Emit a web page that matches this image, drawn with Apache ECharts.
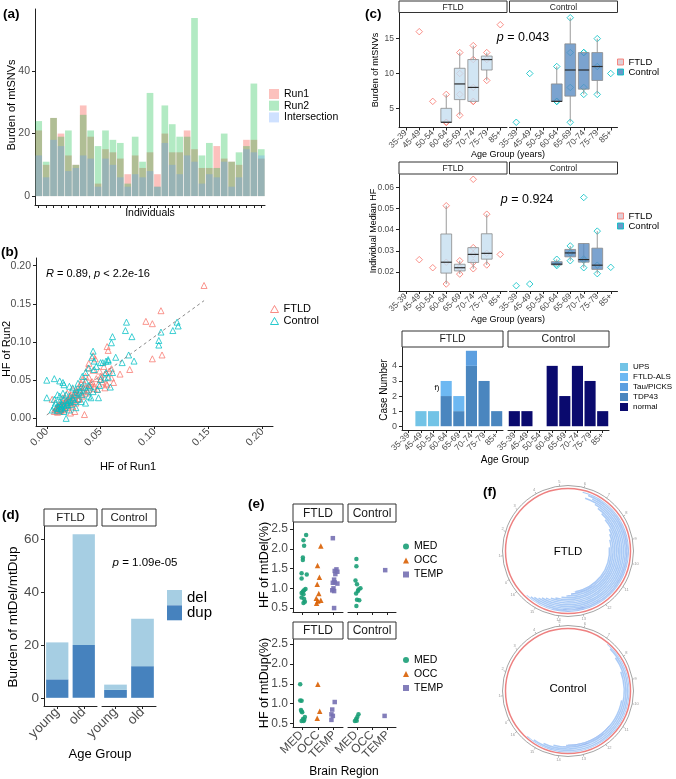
<!DOCTYPE html>
<html><head><meta charset="utf-8">
<script src="https://cdn.jsdelivr.net/npm/echarts@6/dist/echarts.min.js"></script>
<style>html,body{margin:0;padding:0;background:#fff}#c{width:676px;height:779px}</style>
</head><body><div id="c"></div>
<script>
// ================= DATA =================
// (a) burden of mtSNVs per individual
const individuals = ['I01','I02','I03','I04','I05','I06','I07','I08','I09','I10','I11','I12','I13','I14','I15','I16','I17','I18','I19','I20','I21','I22','I23','I24','I25','I26','I27','I28','I29','I30','I31'];
const run1  = [21,10,25,20,13,10,29,19,4,15,14,12,7,13,9,14,7,20,14,14,21,15,9,9,16,12,11,10,18,18,12];
const run2  = [24,11,25,19,21,10,26,21,16,21,18,17,4,19,11,33,3,29,23,19,19,57,13,17,9,20,11,14,16,36,15];
const inter = [13,6,18,16,8,9,13,12,3,12,10,6,3,7,6,8,3,17,10,7,13,11,4,7,6,11,3,6,15,14,13];

// (b) HF Run1 vs Run2
const hfFTLD = [[0.146,0.174],[0.106,0.141],[0.092,0.127],[0.098,0.124],[0.107,0.083],[0.098,0.078],[0.056,0.094],[0.057,0.089],[0.039,0.072],[0.077,0.064],[0.068,0.058],[0.053,0.068],[0.049,0.062],[0.043,0.063],[0.038,0.066],[0.039,0.054],[0.050,0.051],[0.055,0.046],[0.060,0.065],[0.054,0.040],[0.035,0.005],[0.030,0.042],[0.024,0.038],[0.019,0.033],[0.015,0.027],[0.012,0.018],[0.010,0.016],[0.013,0.014],[0.015,0.017],[0.016,0.019],[0.018,0.022],[0.021,0.025],[0.022,0.029],[0.026,0.031],[0.027,0.035],[0.032,0.046],[0.033,0.051],[0.036,0.055],[0.041,0.046],[0.044,0.042],[0.047,0.038],[0.005,0.025],[0.007,0.009],[0.008,0.011],[0.012,0.009],[0.013,0.011],[0.010,0.008],[0.016,0.011],[0.019,0.014],[0.024,0.016],[0.027,0.020],[0.030,0.025],[0.033,0.029],[0.036,0.033],[0.039,0.038],[0.026,0.009],[0.022,0.007],[0.043,0.082],[0.045,0.078],
 [0.010,0.012],[0.011,0.014],[0.012,0.013],[0.013,0.015],[0.012,0.016],[0.014,0.014],[0.011,0.017],[0.013,0.011],[0.015,0.016],[0.010,0.015],[0.009,0.013],[0.014,0.018],[0.016,0.013],[0.012,0.010],[0.017,0.015],[0.018,0.019],[0.019,0.022],[0.020,0.024],[0.021,0.021],[0.022,0.025],[0.018,0.017],[0.016,0.020],[0.024,0.022],[0.025,0.027],[0.023,0.019],[0.020,0.017],[0.028,0.030],[0.030,0.026],[0.026,0.033],[0.032,0.031],[0.034,0.036],[0.036,0.040],[0.038,0.035],[0.040,0.044],[0.042,0.048],[0.044,0.039],[0.046,0.052],[0.048,0.045],[0.050,0.055],[0.052,0.048],[0.054,0.058],[0.056,0.044],[0.058,0.062],[0.060,0.053],[0.062,0.047],[0.035,0.045],[0.030,0.038],[0.027,0.024],[0.022,0.030],[0.016,0.024],
 [0.011,0.015],[0.012,0.015],[0.013,0.016],[0.012,0.014],[0.014,0.016],[0.010,0.013],[0.011,0.012],[0.015,0.014],[0.013,0.013],[0.014,0.012]];
const hfControl = [[0.074,0.126],[0.073,0.115],[0.079,0.107],[0.061,0.107],[0.060,0.099],[0.121,0.126],[0.122,0.121],[0.117,0.115],[0.106,0.113],[0.104,0.102],[0.104,0.096],[0.043,0.088],[0.042,0.080],[0.057,0.075],[0.050,0.073],[0.064,0.080],[0.070,0.073],[0.076,0.083],[0.081,0.075],[0.061,0.060],[0.057,0.054],[0.055,0.060],[0.046,0.068],[0.044,0.064],[0.059,0.041],[0.048,0.027],[0.000,0.050],[0.007,0.052],[0.000,0.027],[0.018,0.000],[0.015,0.047],[0.016,0.044],[0.012,0.049],[0.021,0.042],[0.024,0.040],[0.027,0.038],[0.029,0.046],[0.032,0.041],[0.036,0.049],[0.039,0.043],[0.049,0.043],[0.050,0.051],[0.054,0.053],[0.043,0.035],[0.039,0.029],[0.033,0.031],[0.030,0.033],[0.024,0.027],[0.021,0.029],[0.018,0.031],[0.015,0.033],[0.012,0.029],[0.010,0.031],[0.007,0.025],[0.008,0.020],[0.012,0.022],[0.015,0.024],[0.019,0.020],[0.022,0.018],[0.026,0.022],[0.029,0.025],[0.032,0.022],[0.007,0.016],[0.005,0.011],[0.013,0.016],[0.016,0.009],[0.021,0.011],[0.027,0.014],[0.036,0.020],[0.041,0.027],[0.047,0.038],[0.052,0.073],[0.055,0.075],[0.057,0.077],[0.044,0.075],[0.039,0.066],[0.036,0.060],[0.033,0.055],
 [0.010,0.010],[0.011,0.013],[0.013,0.012],[0.014,0.015],[0.016,0.017],[0.017,0.014],[0.019,0.018],[0.020,0.021],[0.022,0.023],[0.024,0.025],[0.018,0.023],[0.014,0.019],[0.025,0.031],[0.028,0.034],[0.031,0.036],[0.034,0.040],[0.037,0.037],[0.040,0.041],[0.012,0.018],[0.009,0.014]];
const fitB = {intercept: 0.0045, slope: 1.025};
const hfTicks = [0, 0.05, 0.10, 0.15, 0.20];

// (c) age groups
const ageGroups = ['35-39','45-49','50-54','60-64','65-69','70-74','75-79','85+'];
const burdenFTLD    = [[],[16],[6],[3,3,7],[4,7,10,13],[6,6,8,12,14],[9,12,13],[17]];
const burdenControl = [[3],[10],[],[6,6,11],[3,8,13,18],[7,8,13,13],[7,11,15],[10]];
const medHF_FTLD    = [[],[0.0258],[0.022],[0.0143,0.0246,0.0513],[0.019,0.022,0.0253],[0.0215,0.0245,0.0283,0.0315,0.0638],[0.0233,0.0288,0.0473],[0.0283]];
const medHF_Control = [[0.0135],[0.0143],[],[0.023,0.0237,0.026],[0.0253,0.029,0.0323],[0.022,0.0255,0.0262,0.0552],[0.0192,0.0232,0.0393],[0.0222]];
const burdenTicks = [5,10,15];
const hfMedTicks = [0.02,0.03,0.04,0.05,0.06];
const caseUPS      = [0,1,1,0,0,0,0,0];
const caseFTLDALS  = [0,0,0,1,1,0,0,0];
const caseTauPICKS = [0,0,0,0,0,1,0,0];
const caseTDP43    = [0,0,0,2,1,4,3,1];
const caseNormal   = [1,1,0,4,2,4,3,1];
const caseTicks = [0,1,2,3,4];

// (d) mtDel / mtDup burden
const ageCats = ['young','old'];
const ftldDel = [14,42], ftldDup = [7,20];
const ctrlDel = [2,18],  ctrlDup = [3,12];
const delDupTicks = [0,20,40,60];

// (e) HF by brain region ([jittered region position, HF %])
const regions = ['MED','OCC','TEMP'];
const delFtldMED  = [[1.24,2.35],[1.07,2.22],[1.11,2.08],[1.03,1.78],[1.03,1.72],[0.95,1.38],[1.28,1.35],[0.95,1.25],[1.2,0.98],[1.11,0.95],[1.03,0.92],[0.95,0.88],[1.07,0.85],[0.95,0.77],[1.11,0.73],[1.16,0.66],[1.07,0.63]];
const delFtldOCC  = [[2.18,2.07],[1.97,1.58],[2.09,1.28],[1.95,1.1],[2.05,0.87],[1.89,0.75],[2.18,0.7],[1.99,0.68],[1.91,0.62]];
const delFtldTEMP = [[2.95,2.27],[3.18,1.48],[3.07,1.44],[3.24,1.42],[3.11,1.36],[3.03,1.22],[3.07,1.15],[3.24,1.12],[2.95,1.14],[2.99,1.0],[2.91,0.95],[3.03,0.93],[3.03,0.5]];
const delCtrlMED  = [[0.96,1.74],[0.96,1.56],[0.9,1.2],[1.0,1.1],[1.1,0.97],[1.23,1.0],[1.06,0.93],[0.94,0.87],[1.0,0.71],[1.15,0.7],[0.96,0.55]];
const delCtrlTEMP = [[2.88,1.46]];
const dupFtldMED  = [[0.86,1.49],[0.86,1.08],[0.95,1.07],[0.91,0.84],[0.95,0.8],[0.99,0.78],[1.16,0.66],[1.04,0.61],[0.95,0.56],[1.08,0.56],[1.12,0.59]];
const dupFtldOCC  = [[1.99,1.49],[2.11,0.81],[1.95,0.63]];
const dupFtldTEMP = [[3.07,1.04],[2.91,0.85],[2.86,0.73],[2.95,0.69],[2.86,0.59]];
const dupCtrlMED  = [[1.1,0.73],[1.02,0.66],[0.94,0.61],[0.86,0.56],[0.98,0.57]];
const dupCtrlTEMP = [[2.84,0.69]];
const hfPctTicks = [0.5,1.0,1.5,2.0,2.5];

// (f) deletion arcs on the mitochondrial genome (bp), tracks inner -> outer
const mtLen = 16569;
const ftldTracks   = ['t1','t2','t3','t4','t5','t6','t7','t8','t9','t10','t11','t12'];
const ftldArcStart = [9251,8791,8469,8192,7640,7272,6950,6720,6167,6490,6259,5983];
const ftldArcEnd   = [13163,13439,13715,13992,14314,14544,14774,14958,15096,15280,15418,15602];
const ftldDenseStart = [11322,10862,11782,null,null,null,null,null,null,null,8100,7410];
const ftldDenseEnd   = [13255,13439,13623,null,null,null,null,null,null,null,13854,14314];
const ctrlTracks   = ['t1','t2','t3','t4','t5'];
const ctrlArcStart = [9941,8561,7870,7410,7180];
const ctrlArcEnd   = [13715,14314,14774,15234,15556];
const ctrlDenseStart = [11322,11782,null,null,null];
const ctrlDenseEnd   = [13623,13854,null,null,null];

// ================= STYLE / LAYOUT =================
const FONT = '"Liberation Sans", Arial, Helvetica, sans-serif';
const AX = '#222', TL = '#4D4D4D';
const C_FTLD = '#F8766D', C_CTRL = '#00BFC4';

const grids = [
  [35,9,230,196],      //0 a
  [36,258,237,168],    //1 b
  [399,12.5,108,115],  //2 c1 FTLD
  [509.5,12.5,108,115],//3 c1 Control
  [399,174,108,117],   //4 c2 FTLD
  [509.5,174,108,117], //5 c2 Control
  [402,347,101,83],    //6 c3 FTLD
  [508,347,101,83],    //7 c3 Control
  [44,526,53,180],     //8 d FTLD
  [102,526,54,180],    //9 d Control
  [293,522,50,90],     //10 e1 FTLD
  [348,522,48,90],     //11 e1 Control
  [293,639,50,88],     //12 e2 FTLD
  [348,639,48,88]      //13 e2 Control
];

function valAxis(g, min, max, ticks, fmt, fs, extra) {
  const a = {
    type:'value', gridIndex:g, min, max,
    axisLine:{show:true, onZero:false, lineStyle:{color:AX, width:1}},
    axisTick:{show:true, length:3, customValues:ticks, lineStyle:{color:AX}},
    axisLabel:{show:true, customValues:ticks, formatter:fmt, fontSize:fs, color:TL, fontFamily:FONT, margin:5},
    splitLine:{show:false}
  };
  if (extra) { Object.assign(a.axisLabel, extra.label || {}); }
  return a;
}
function hiddenVal(g, min, max) { return {type:'value', gridIndex:g, min, max, show:false}; }
function catAxis(g, data, fs, rotate, showLabel) {
  return {
    type:'category', gridIndex:g, data,
    axisLine:{show:true, onZero:false, lineStyle:{color:AX, width:1}},
    axisTick:{show:true, alignWithLabel:true, interval:0, length:3, lineStyle:{color:AX}},
    axisLabel:{show:showLabel !== false, interval:0, rotate, fontSize:fs, color:TL, fontFamily:FONT, margin:4},
    splitLine:{show:false}
  };
}
function regionAxis(g) {
  return {
    type:'value', gridIndex:g, min:0.4, max:3.6,
    axisLine:{show:true, onZero:false, lineStyle:{color:AX, width:1}},
    axisTick:{show:true, length:3, customValues:[1,2,3], lineStyle:{color:AX}},
    axisLabel:{show:false},
    splitLine:{show:false}
  };
}
function regionLabelAxis(g) {
  return {
    type:'category', gridIndex:g, data:regions, position:'bottom',
    axisLine:{show:false, onZero:false}, axisTick:{show:false},
    axisLabel:{show:true, interval:0, rotate:45, fontSize:12, color:TL, fontFamily:FONT, margin:6},
    splitLine:{show:false}
  };
}
const fmt2 = v => v.toFixed(2);
const fmtI = v => String(v);

const xAxis = [
  catAxis(0, individuals, 10, 0, false),
  valAxis(1, -0.01, 0.21, hfTicks, fmt2, 10.5, {label:{rotate:45, margin:4}}),
  catAxis(2, ageGroups, 8.5, 45), catAxis(3, ageGroups, 8.5, 45),
  catAxis(4, ageGroups, 8.5, 45), catAxis(5, ageGroups, 8.5, 45),
  catAxis(6, ageGroups, 8.5, 45), catAxis(7, ageGroups, 8.5, 45),
  catAxis(8, ageCats, 13.5, 45), catAxis(9, ageCats, 13.5, 45),
  regionAxis(10), regionAxis(11), regionAxis(12), regionAxis(13),
  regionLabelAxis(12), regionLabelAxis(13)
];
const yAxis = [
  valAxis(0, -2.85, 59.85, [0,20,40], fmtI, 10.5),
  valAxis(1, -0.01, 0.21, hfTicks, fmt2, 10.5),
  valAxis(2, 2.25, 18.75, burdenTicks, fmtI, 8.5), hiddenVal(3, 2.25, 18.75),
  valAxis(4, 0.011, 0.0663, hfMedTicks, fmt2, 8.5), hiddenVal(5, 0.011, 0.0663),
  valAxis(6, -0.25, 5.25, caseTicks, fmtI, 9), hiddenVal(7, -0.25, 5.25),
  valAxis(8, -3.1, 65.1, delDupTicks, fmtI, 13.5), hiddenVal(9, -3.1, 65.1),
  valAxis(10, 0.4, 2.68, hfPctTicks, v => v.toFixed(1), 12), hiddenVal(11, 0.4, 2.68),
  valAxis(12, 0.41, 2.63, hfPctTicks, v => v.toFixed(1), 12), hiddenVal(13, 0.41, 2.63)
];

// ---------- helpers for box plots ----------
function quant(s, p) { const h = (s.length - 1) * p, l = Math.floor(h); const u = Math.min(l + 1, s.length - 1); return s[l] + (h - l) * (s[u] - s[l]); }
function boxStats(groups) {
  const out = [];
  groups.forEach((g, i) => {
    if (g.length < 2) return;
    const s = [...g].sort((a, b) => a - b);
    const q1 = quant(s, 0.25), md = quant(s, 0.5), q3 = quant(s, 0.75), iqr = q3 - q1;
    const lo = Math.min(...s.filter(v => v >= q1 - 1.5 * iqr));
    const hi = Math.max(...s.filter(v => v <= q3 + 1.5 * iqr));
    out.push([i, lo, q1, md, q3, hi]);
  });
  return out;
}
function groupPoints(groups) { const out = []; groups.forEach((g, i) => g.forEach(v => out.push([i, v]))); return out; }
function renderBox(fill) {
  return function (params, api) {
    const x = api.value(0);
    const lo = api.coord([x, api.value(1)]), q1 = api.coord([x, api.value(2)]);
    const md = api.coord([x, api.value(3)]), q3 = api.coord([x, api.value(4)]);
    const hi = api.coord([x, api.value(5)]);
    const w = api.size([1, 0])[0] * 0.8, cx = q1[0];
    return {type:'group', children:[
      {type:'line', shape:{x1:cx, y1:lo[1], x2:cx, y2:q1[1]}, style:{stroke:'#9a9a9a', lineWidth:1}},
      {type:'line', shape:{x1:cx, y1:q3[1], x2:cx, y2:hi[1]}, style:{stroke:'#9a9a9a', lineWidth:1}},
      {type:'rect', shape:{x:cx - w/2, y:q3[1], width:w, height:q1[1] - q3[1]}, style:{fill, stroke:'#8a8a8a', lineWidth:0.8}},
      {type:'line', shape:{x1:cx - w/2, y1:md[1], x2:cx + w/2, y2:md[1]}, style:{stroke:'#2b2b2b', lineWidth:1.2}}
    ]};
  };
}
function boxSeries(name, g, groups, fill) {
  return {type:'custom', name, xAxisIndex:g, yAxisIndex:g, renderItem:renderBox(fill), encode:{x:0, y:[1,2,3,4,5]}, data:boxStats(groups), z:3, silent:true};
}
function diamondSeries(name, g, groups, color) {
  return {type:'scatter', name, xAxisIndex:g, yAxisIndex:g, data:groupPoints(groups), symbol:'diamond', symbolSize:6.5,
    itemStyle:{color:'rgba(0,0,0,0)', borderColor:color, borderWidth:1}, z:2, silent:true};
}
const dash = a => a.map(v => v === 0 ? '-' : v);

// ---------- (b) fit line ----------
const allBx = hfFTLD.concat(hfControl).map(p => p[0]);
const bxMin = Math.min(...allBx), bxMax = Math.max(...allBx);
const fitLine = [[bxMin, fitB.intercept + fitB.slope * bxMin], [bxMax, fitB.intercept + fitB.slope * bxMax]];

// ---------- (e) ----------
const eSym = {MED:'circle', OCC:'triangle', TEMP:'rect'};
const eSize = {MED:4.5, OCC:5.5, TEMP:4.5};
const eCol = {MED:'#1B9E77', OCC:'#D95F02', TEMP:'#7570B3'};
function eSeries(g, name, data) {
  return {type:'scatter', name, xAxisIndex:g, yAxisIndex:g, data, symbol:eSym[name], symbolSize:eSize[name], itemStyle:{color:eCol[name], opacity:0.9}, silent:true};
}

// ---------- (f) arcs ----------
function arcSeries(polarIndex, stack, starts, ends, color) {
  const base = starts.map(v => v == null ? '-' : v);
  const len = starts.map((v, i) => v == null ? '-' : ends[i] - v);
  return [
    {type:'bar', coordinateSystem:'polar', polarIndex, stack, data:base, barWidth:'88%', barGap:'-100%', itemStyle:{color:'rgba(0,0,0,0)'}, silent:true},
    {type:'bar', coordinateSystem:'polar', polarIndex, stack, data:len, barWidth:'88%', barGap:'-100%', itemStyle:{color}, silent:true}
  ];
}
const ARC_LIGHT = 'rgba(150,190,244,0.8)', ARC_DARK = 'rgba(120,150,232,0.75)';

const FC = [568, 551], CC = [568, 691];
const polar = [
  {center:FC, radius:[0,65.5]}, {center:FC, radius:[0,62.5]}, {center:FC, radius:[40,61]},
  {center:CC, radius:[0,65.5]}, {center:CC, radius:[0,62.5]}, {center:CC, radius:[53,61.5]}
];
function ringAngle(i) {
  return {polarIndex:i, type:'value', min:0, max:mtLen, interval:1000, startAngle:206, clockwise:true,
    axisLine:{show:true, lineStyle:{color:'#8c8c8c', width:0.8}},
    axisTick:{show:true, length:2, lineStyle:{color:'#8c8c8c', width:0.6}},
    axisLabel:{show:true, fontSize:4, color:'#999', margin:2, formatter:v => String(v/1000)},
    splitLine:{show:false}};
}
function redAngle(i) {
  return {polarIndex:i, type:'value', min:0, max:mtLen, startAngle:206, clockwise:true,
    axisLine:{show:true, lineStyle:{color:'#EE8080', width:1.5}}, axisTick:{show:false}, axisLabel:{show:false}, splitLine:{show:false}};
}
function hiddenAngle(i) { return {polarIndex:i, type:'value', min:0, max:mtLen, startAngle:206, clockwise:true, show:false, axisLine:{show:false}, axisTick:{show:false}, axisLabel:{show:false}, splitLine:{show:false}}; }
const angleAxis = [ringAngle(0), redAngle(1), hiddenAngle(2), ringAngle(3), redAngle(4), hiddenAngle(5)];
const hr = (i) => ({polarIndex:i, type:'value', show:false, axisLine:{show:false}, axisLabel:{show:false}, splitLine:{show:false}});
const radiusAxis = [hr(0), hr(1),
  {polarIndex:2, type:'category', data:ftldTracks, show:false, axisLine:{show:false}, axisTick:{show:false}, axisLabel:{show:false}, splitLine:{show:false}},
  hr(3), hr(4),
  {polarIndex:5, type:'category', data:ctrlTracks, show:false, axisLine:{show:false}, axisTick:{show:false}, axisLabel:{show:false}, splitLine:{show:false}}];

// ---------- series ----------
const series = [
  // (a)
  {type:'bar', name:'Run1', xAxisIndex:0, yAxisIndex:0, data:run1, barWidth:'90%', barGap:'-100%', itemStyle:{color:'rgba(248,118,109,0.45)'}, silent:true},
  {type:'bar', name:'Run2', xAxisIndex:0, yAxisIndex:0, data:run2, barWidth:'90%', barGap:'-100%', itemStyle:{color:'rgba(0,186,56,0.3)'}, silent:true},
  {type:'bar', name:'Intersection', xAxisIndex:0, yAxisIndex:0, data:inter, barWidth:'90%', barGap:'-100%', itemStyle:{color:'rgba(97,156,255,0.3)'}, silent:true},
  // (b)
  {type:'scatter', name:'FTLD', xAxisIndex:1, yAxisIndex:1, data:hfFTLD, symbol:'triangle', symbolSize:6, itemStyle:{color:'rgba(0,0,0,0)', borderColor:C_FTLD, borderWidth:0.9, opacity:0.85}, silent:true},
  {type:'scatter', name:'Control', xAxisIndex:1, yAxisIndex:1, data:hfControl, symbol:'triangle', symbolSize:6, itemStyle:{color:'rgba(0,0,0,0)', borderColor:C_CTRL, borderWidth:0.9, opacity:0.85}, silent:true},
  {type:'line', name:'fit', xAxisIndex:1, yAxisIndex:1, data:fitLine, symbol:'none', lineStyle:{color:'#8a8a8a', width:1, type:[3,3]}, z:5, silent:true},
  // (c) top
  diamondSeries('FTLD', 2, burdenFTLD, C_FTLD), boxSeries('FTLD', 2, burdenFTLD, 'rgba(198,222,240,0.8)'),
  diamondSeries('Control', 3, burdenControl, C_CTRL), boxSeries('Control', 3, burdenControl, 'rgba(90,140,195,0.8)'),
  // (c) middle
  diamondSeries('FTLD', 4, medHF_FTLD, C_FTLD), boxSeries('FTLD', 4, medHF_FTLD, 'rgba(198,222,240,0.8)'),
  diamondSeries('Control', 5, medHF_Control, C_CTRL), boxSeries('Control', 5, medHF_Control, 'rgba(90,140,195,0.8)'),
  // (c) bottom
  {type:'bar', name:'TDP43', xAxisIndex:6, yAxisIndex:6, stack:'cf', data:dash(caseTDP43), barWidth:'88%', itemStyle:{color:'#4A86BF'}, silent:true},
  {type:'bar', name:'Tau/PICKS', xAxisIndex:6, yAxisIndex:6, stack:'cf', data:dash(caseTauPICKS), barWidth:'88%', itemStyle:{color:'#5C9FE0'}, silent:true},
  {type:'bar', name:'FTLD-ALS', xAxisIndex:6, yAxisIndex:6, stack:'cf', data:dash(caseFTLDALS), barWidth:'88%', itemStyle:{color:'#6DB8F2'}, silent:true},
  {type:'bar', name:'UPS', xAxisIndex:6, yAxisIndex:6, stack:'cf', data:dash(caseUPS), barWidth:'88%', itemStyle:{color:'#72C3E6'}, silent:true},
  {type:'bar', name:'normal', xAxisIndex:7, yAxisIndex:7, stack:'cc', data:dash(caseNormal), barWidth:'88%', itemStyle:{color:'#0A0A6E'}, silent:true},
  // (d)
  {type:'bar', name:'dup', xAxisIndex:8, yAxisIndex:8, stack:'df', data:ftldDup, barWidth:'84%', itemStyle:{color:'#4682BE'}, silent:true},
  {type:'bar', name:'del', xAxisIndex:8, yAxisIndex:8, stack:'df', data:ftldDel, barWidth:'84%', itemStyle:{color:'#A6CEE3'}, silent:true},
  {type:'bar', name:'dup', xAxisIndex:9, yAxisIndex:9, stack:'dc', data:ctrlDup, barWidth:'84%', itemStyle:{color:'#4682BE'}, silent:true},
  {type:'bar', name:'del', xAxisIndex:9, yAxisIndex:9, stack:'dc', data:ctrlDel, barWidth:'84%', itemStyle:{color:'#A6CEE3'}, silent:true},
  // (e)
  eSeries(10,'MED',delFtldMED), eSeries(10,'OCC',delFtldOCC), eSeries(10,'TEMP',delFtldTEMP),
  eSeries(11,'MED',delCtrlMED), eSeries(11,'TEMP',delCtrlTEMP),
  eSeries(12,'MED',dupFtldMED), eSeries(12,'OCC',dupFtldOCC), eSeries(12,'TEMP',dupFtldTEMP),
  eSeries(13,'MED',dupCtrlMED), eSeries(13,'TEMP',dupCtrlTEMP)
].concat(
  arcSeries(2, 'fl', ftldArcStart, ftldArcEnd, ARC_LIGHT),
  arcSeries(2, 'fd', ftldDenseStart, ftldDenseEnd, ARC_DARK),
  arcSeries(5, 'cl', ctrlArcStart, ctrlArcEnd, ARC_LIGHT),
  arcSeries(5, 'cd', ctrlDenseStart, ctrlDenseEnd, ARC_DARK)
);

// ---------- legends ----------
const legTxt = (fs, lh) => ({fontSize:fs, color:'#000', fontFamily:FONT, lineHeight:lh});
const legBase = {orient:'vertical', padding:0, selectedMode:false};
const legend = [
  Object.assign({left:269, top:88.5, itemWidth:10, itemHeight:10, itemGap:0.7, textStyle:legTxt(10.5,11),
    data:[{name:'Run1', icon:'rect'},{name:'Run2', icon:'rect'},{name:'Intersection', icon:'rect'}]}, legBase),
  Object.assign({left:270, top:303, itemWidth:8, itemHeight:7, itemGap:0, textStyle:legTxt(11,12),
    data:[{name:'FTLD', icon:'triangle', itemStyle:{color:'rgba(0,0,0,0)', borderColor:C_FTLD, borderWidth:1}},
          {name:'Control', icon:'triangle', itemStyle:{color:'rgba(0,0,0,0)', borderColor:C_CTRL, borderWidth:1}}]}, legBase),
  Object.assign({left:617, top:57, itemWidth:6, itemHeight:6, itemGap:0, textStyle:legTxt(9.5,10),
    data:[{name:'FTLD', icon:'rect', itemStyle:{color:'#D9C6CF', borderColor:C_FTLD, borderWidth:1}},
          {name:'Control', icon:'rect', itemStyle:{color:'#4F86BE', borderColor:C_CTRL, borderWidth:1}}]}, legBase),
  Object.assign({left:617, top:211, itemWidth:6, itemHeight:6, itemGap:0, textStyle:legTxt(9.5,10),
    data:[{name:'FTLD', icon:'rect', itemStyle:{color:'#D9C6CF', borderColor:C_FTLD, borderWidth:1}},
          {name:'Control', icon:'rect', itemStyle:{color:'#4F86BE', borderColor:C_CTRL, borderWidth:1}}]}, legBase),
  Object.assign({left:620, top:362, itemWidth:8, itemHeight:8, itemGap:0, textStyle:legTxt(8,10),
    data:[{name:'UPS', icon:'rect'},{name:'FTLD-ALS', icon:'rect'},{name:'Tau/PICKS', icon:'rect'},{name:'TDP43', icon:'rect'},{name:'normal', icon:'rect'}]}, legBase),
  Object.assign({left:167, top:590, itemWidth:15, itemHeight:15, itemGap:0.3, textStyle:legTxt(15,15),
    data:[{name:'del', icon:'rect'},{name:'dup', icon:'rect'}]}, legBase),
  Object.assign({left:403, top:540, itemWidth:6, itemHeight:6, itemGap:1, textStyle:legTxt(10.5,13),
    data:[{name:'MED', icon:'circle'},{name:'OCC', icon:'triangle'},{name:'TEMP', icon:'rect'}]}, legBase),
  Object.assign({left:403, top:653.5, itemWidth:6, itemHeight:6, itemGap:1, textStyle:legTxt(10.5,13),
    data:[{name:'MED', icon:'circle'},{name:'OCC', icon:'triangle'},{name:'TEMP', icon:'rect'}]}, legBase)
];

// ---------- graphics: strips, titles, annotations ----------
const G = [];
function txt(x, y, text, fs, o) {
  o = o || {};
  const st = {text, fontSize:fs, fontFamily:FONT, fill:o.color || '#000', fontWeight:o.bold ? 'bold' : 'normal',
    align:o.align || 'center', verticalAlign:'middle', textAlign:o.align || 'center', textVerticalAlign:'middle'};
  if (o.rich) st.rich = o.rich;
  G.push({type:'text', x, y, rotation:o.rot || 0, style:st, z:100, silent:true});
}
function strip(x, y, w, h, text, fs) {
  G.push({type:'rect', shape:{x, y, width:w, height:h}, style:{fill:'#fff', stroke:'#333', lineWidth:1}, z:99, silent:true});
  txt(x + w/2, y + h/2 + 0.5, text, fs, {color:'#1A1A1A'});
}
const R90 = Math.PI / 2;
const rich = fs => ({i:{fontStyle:'italic', fontSize:fs, fontFamily:FONT, fill:'#000'}, n:{fontSize:fs, fontFamily:FONT, fill:'#000'}});
// panel letters
txt(3, 14, '(a)', 13.5, {bold:true, align:'left'});
txt(1, 252, '(b)', 13.5, {bold:true, align:'left'});
txt(365, 14, '(c)', 13.5, {bold:true, align:'left'});
txt(2, 515, '(d)', 13.5, {bold:true, align:'left'});
txt(248, 504, '(e)', 13.5, {bold:true, align:'left'});
txt(483, 492, '(f)', 13.5, {bold:true, align:'left'});
// (a)
txt(12, 105, 'Burden of mtSNVs', 11, {rot:R90});
txt(150, 213, 'Individuals', 10.5);
// (b)
txt(7, 349, 'HF of Run2', 11, {rot:R90});
txt(128, 467, 'HF of Run1', 11);
txt(46, 274, '{i|R}{n| = 0.89, }{i|p}{n| < 2.2e-16}', 11, {align:'left', rich:rich(11)});
// (c)
strip(399, 1, 108, 11.5, 'FTLD', 8.5); strip(509.5, 1, 108, 11.5, 'Control', 8.5);
strip(399, 162, 108, 12, 'FTLD', 8.5); strip(509.5, 162, 108, 12, 'Control', 8.5);
strip(402, 331, 101, 16, 'FTLD', 10.5); strip(508, 331, 101, 16, 'Control', 10.5);
txt(376, 70, 'Burden of mtSNVs', 9, {rot:R90});
txt(374, 231, 'Individual Median HF', 9, {rot:R90});
txt(384, 390, 'Case Number', 10, {rot:R90});
txt(508, 155, 'Age Group (years)', 9);
txt(508, 320, 'Age Group (years)', 9);
txt(505, 460, 'Age Group', 10);
txt(523, 38, '{i|p}{n| = 0.043}', 12.5, {rich:rich(12.5)});
txt(527, 200, '{i|p}{n| = 0.924}', 12.5, {rich:rich(12.5)});
txt(437, 388, 'f)', 8);
// (d)
strip(44, 509, 53, 17, 'FTLD', 11.5); strip(102, 509, 54, 17, 'Control', 11.5);
txt(13, 617, 'Burden of mtDel/mtDup', 13.5, {rot:R90});
txt(100, 754, 'Age Group', 13);
txt(145, 563, '{i|p}{n| = 1.09e-05}', 11.5, {rich:rich(11.5)});
// (e)
strip(293, 504, 50, 18, 'FTLD', 12); strip(348, 504, 48, 18, 'Control', 12);
strip(293, 622, 50, 17, 'FTLD', 12); strip(348, 622, 48, 17, 'Control', 12);
txt(265, 565, 'HF of mtDel(%)', 12.5, {rot:R90});
txt(265, 683, 'HF of mtDup(%)', 12.5, {rot:R90});
txt(344, 772, 'Brain Region', 12);
// (f)
txt(FC[0], FC[1] + 1, 'FTLD', 11.5);
txt(CC[0], CC[1] - 2, 'Control', 11.5);

const option = {
  animation:false, backgroundColor:'#fff', textStyle:{fontFamily:FONT},
  grid: grids.map(g => ({left:g[0], top:g[1], width:g[2], height:g[3], containLabel:false, outerBoundsMode:'none'})),
  xAxis, yAxis, polar, angleAxis, radiusAxis, legend, series,
  graphic:{elements:G}
};
const chart = echarts.init(document.getElementById('c'), null, {renderer:'canvas', width:676, height:779});
chart.setOption(option);
</script>
</body></html>
